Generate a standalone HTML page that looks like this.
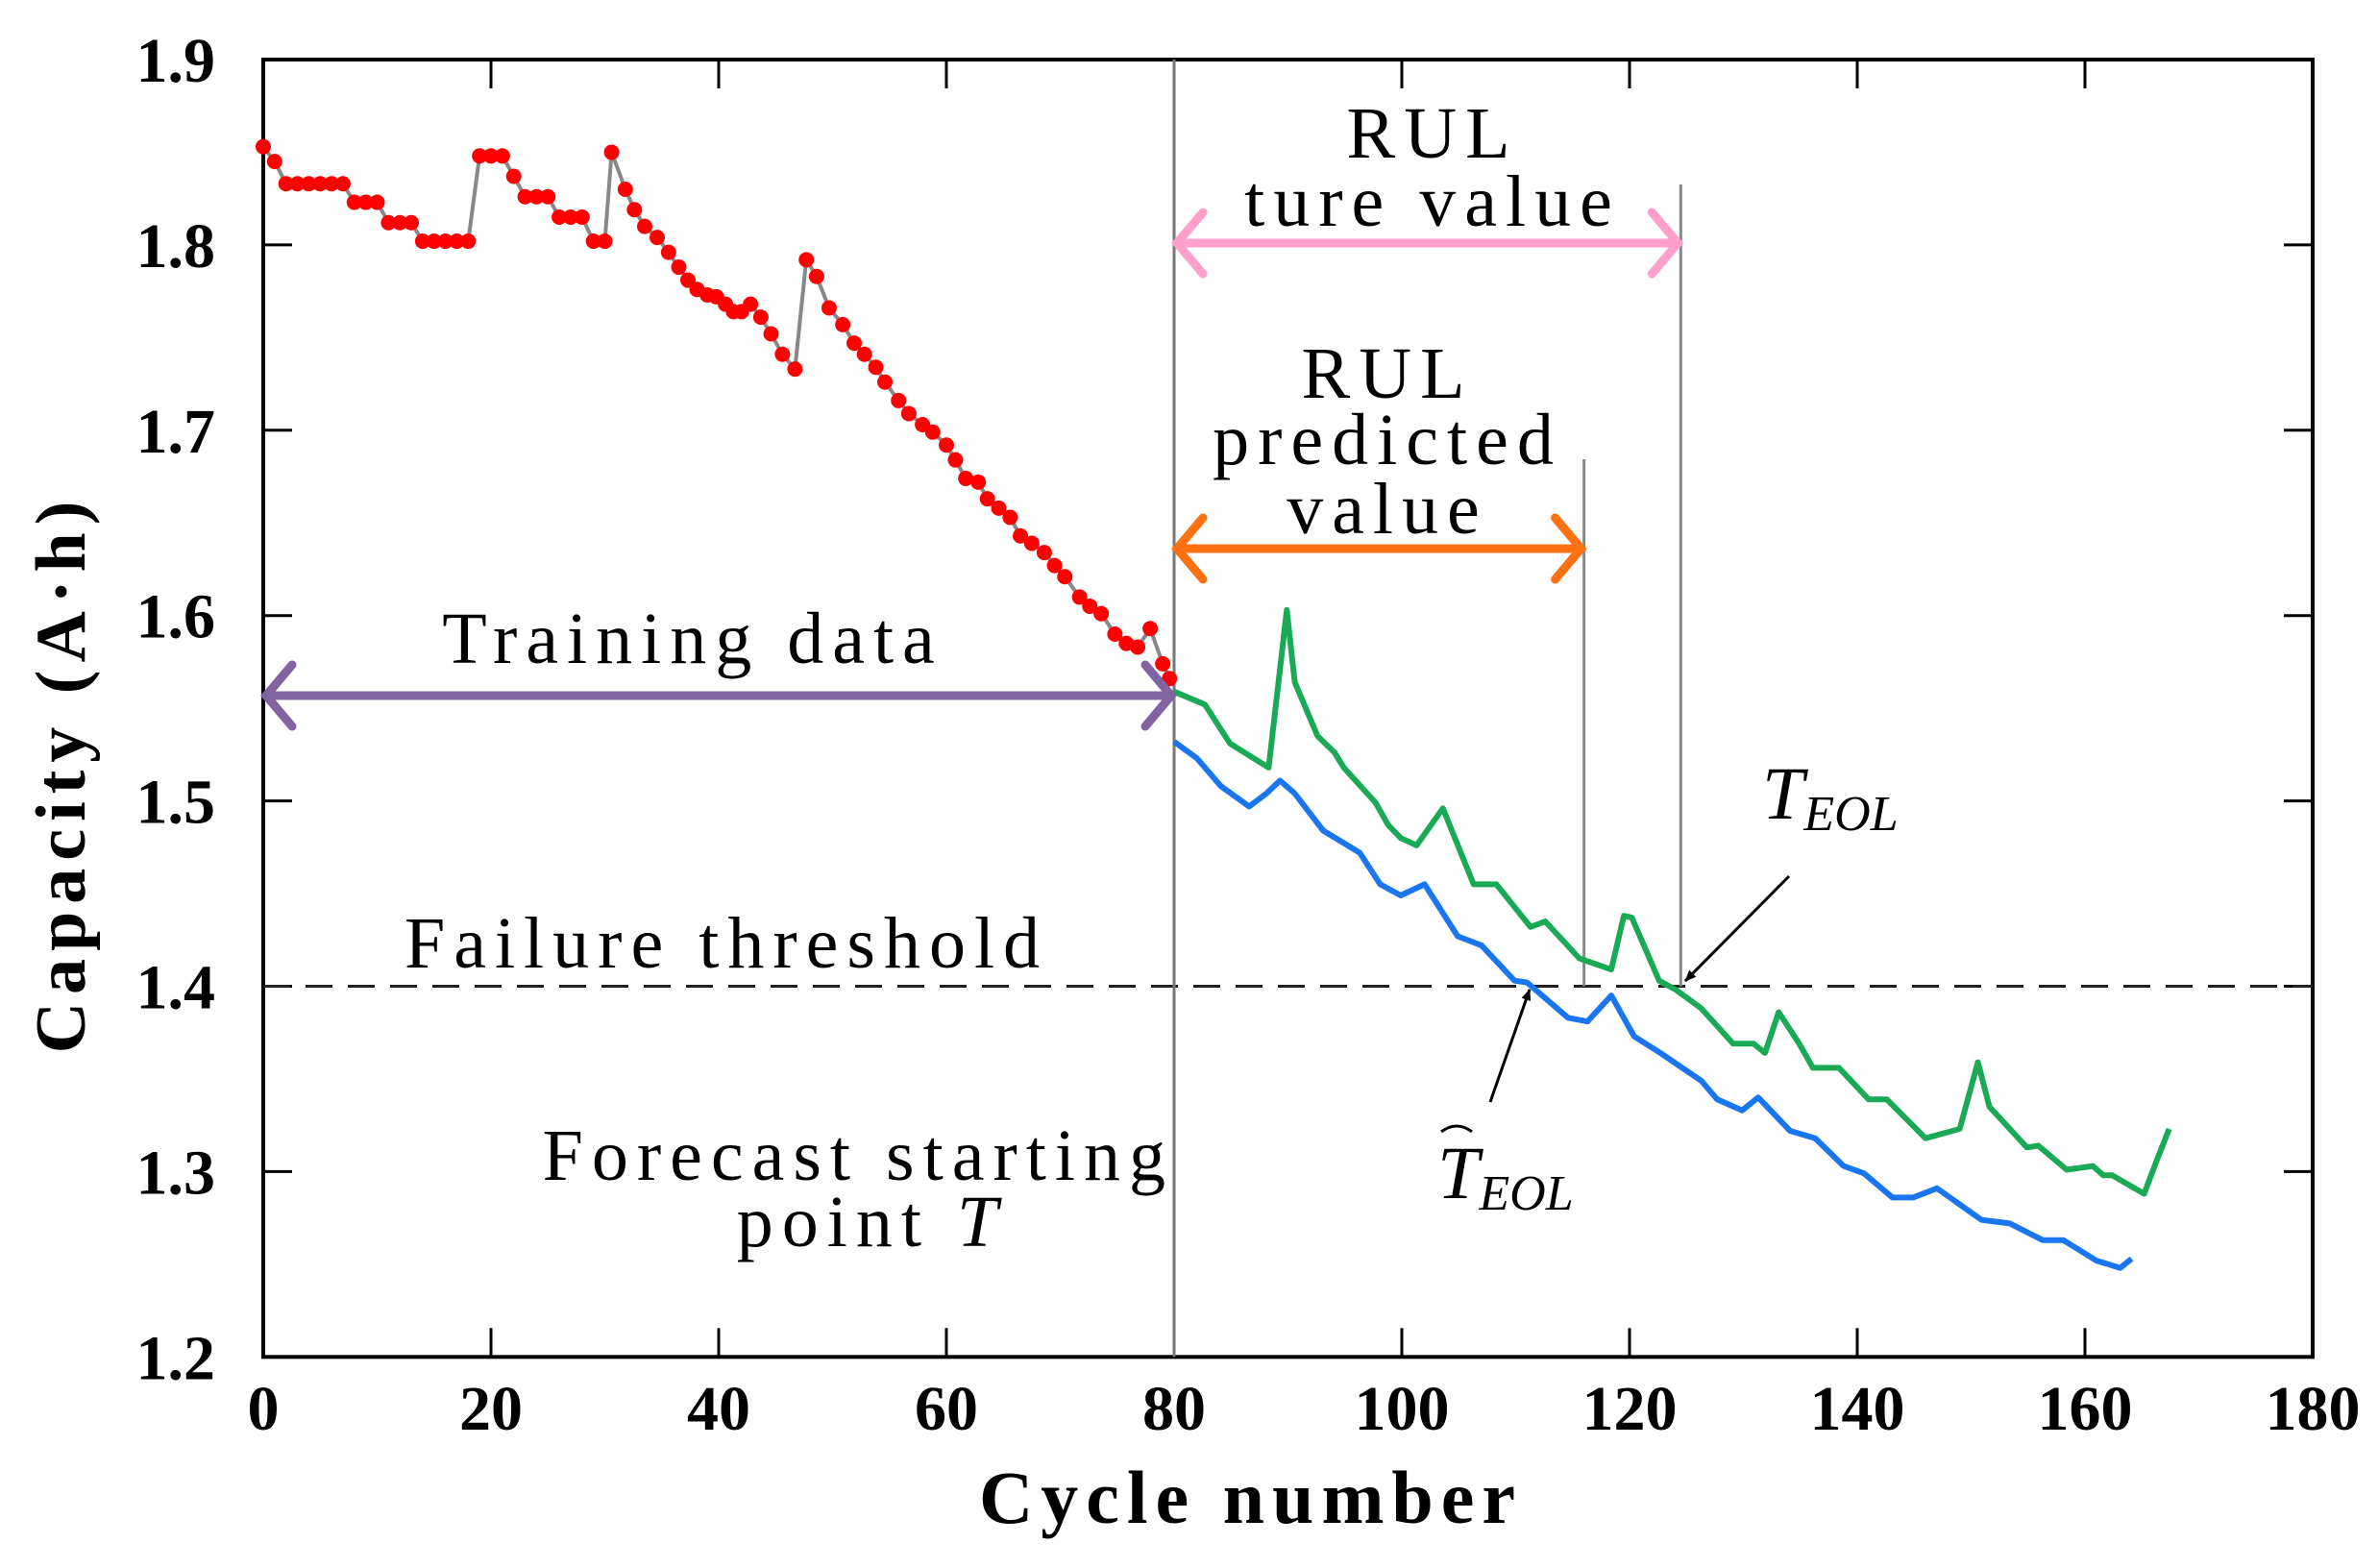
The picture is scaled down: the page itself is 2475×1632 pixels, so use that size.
<!DOCTYPE html>
<html><head><meta charset="utf-8"><style>
html,body{margin:0;padding:0;background:#fff;}
svg{display:block;}
text{font-family:"Liberation Serif",serif;}
</style></head><body>
<svg id="chart" width="2475" height="1632" viewBox="0 0 2475 1632" xmlns="http://www.w3.org/2000/svg">
<defs>
<marker id="ah" markerWidth="12" markerHeight="12" refX="11" refY="6" orient="auto" markerUnits="userSpaceOnUse">
<path d="M0,1 L12,6 L0,11 Z" fill="#000"/></marker>
</defs>
<g id="plot"></g>
</svg>
<script>
const trainX=[0,1,2,3,4,5,6,7,8,9,10,11,12,13,14,15,16,17,18,19,20,21,22,23,24,25,26,27,28,29,30,30.6,31.8,32.6,33.5,34.6,35.6,36.5,37.3,38.1,39,39.8,40.6,41.3,42,42.8,43.7,44.6,45.6,46.7,47.7,48.6,49.7,50.9,51.9,52.8,53.8,54.6,55.8,56.7,57.9,58.8,60,60.8,61.7,62.8,63.6,64.6,65.6,66.5,67.5,68.6,69.5,70.4,71.7,72.6,73.6,74.8,75.8,76.8,77.9,79,79.6];
const trainY=[1.853,1.845,1.833,1.833,1.833,1.833,1.833,1.833,1.823,1.823,1.823,1.812,1.812,1.812,1.802,1.802,1.802,1.802,1.802,1.848,1.848,1.848,1.837,1.826,1.826,1.826,1.815,1.815,1.815,1.802,1.802,1.850,1.830,1.819,1.810,1.804,1.796,1.788,1.781,1.776,1.773,1.772,1.768,1.764,1.764,1.768,1.761,1.752,1.741,1.733,1.792,1.783,1.766,1.757,1.747,1.741,1.734,1.726,1.716,1.709,1.703,1.699,1.692,1.684,1.674,1.672,1.663,1.658,1.653,1.643,1.639,1.634,1.627,1.621,1.610,1.605,1.601,1.590,1.585,1.583,1.593,1.574,1.566];
const trueX=[80,82.7,84.9,88.3,89.9,90.6,92.6,94.1,94.9,97.7,98.8,99.9,101.3,103.6,106.3,108.3,111.3,112.6,115.6,118.4,119.5,120.2,122.6,124.1,126.3,129.1,130.9,131.9,133.1,134.9,136.1,138.4,141,142.6,146,149,150.6,151.6,154.9,155.9,158.4,160.7,161.6,162.4,165.2,166.3,167.4];
const trueY=[1.559,1.552,1.531,1.518,1.603,1.564,1.535,1.526,1.518,1.499,1.487,1.480,1.476,1.496,1.455,1.455,1.432,1.435,1.415,1.409,1.438,1.437,1.403,1.398,1.388,1.369,1.369,1.364,1.386,1.369,1.356,1.356,1.339,1.339,1.318,1.323,1.359,1.335,1.313,1.314,1.301,1.303,1.298,1.298,1.288,1.306,1.323];
const predX=[80,82,84.1,86.6,88.1,89.3,90.6,93.1,96.3,98.1,99.9,102,104.9,107,109.9,111,114.6,116.3,118.4,120.4,122.7,126.3,127.7,129.9,131.3,134.1,136.3,138.8,140.6,143.1,144.9,147,150.9,153.4,156.3,158.1,161,163.1,164.1];
const predY=[1.532,1.523,1.508,1.497,1.504,1.511,1.504,1.484,1.472,1.455,1.449,1.455,1.427,1.422,1.403,1.402,1.383,1.381,1.395,1.373,1.364,1.349,1.339,1.333,1.340,1.322,1.318,1.303,1.299,1.286,1.286,1.291,1.274,1.272,1.263,1.263,1.252,1.248,1.253];
const xTicks=[0,20,40,60,80,100,120,140,160,180];
const yTicks=[1.2,1.3,1.4,1.5,1.6,1.7,1.8,1.9];
const threshold=1.4;
const startT=80, predEOL=116, trueEOL=124.5;

const X=c=>274+c*11.85;
const Y=v=>62+(1.9-v)*1929;
const NS='http://www.w3.org/2000/svg';
const g=document.getElementById('plot');
function el(tag,attrs,parent){const e=document.createElementNS(NS,tag);for(const k in attrs)e.setAttribute(k,attrs[k]);(parent||g).appendChild(e);return e;}
function txt(s,attrs){const e=el('text',attrs);e.textContent=s;return e;}

let f=el('rect',{x:X(0),y:Y(1.9),width:X(180)-X(0),height:Y(1.2)-Y(1.9),fill:'none',stroke:'#000','stroke-width':4});


xTicks.forEach(t=>{
  let l=el('line',{x1:X(t),x2:X(t),y1:Y(1.2),y2:Y(1.2)-30,stroke:'#000','stroke-width':3});
  
  
  let l2=el('line',{x1:X(t),x2:X(t),y1:Y(1.9),y2:Y(1.9)+30,stroke:'#000','stroke-width':3});
  
  
  let tl=txt(String(t),{x:X(t),y:1488,'text-anchor':'middle','font-size':66,'font-weight':'bold'});
  
  
});
yTicks.forEach(t=>{
  let l=el('line',{x1:X(0),x2:X(0)+30,y1:Y(t),y2:Y(t),stroke:'#000','stroke-width':3});
  
  
  let l2=el('line',{x1:X(180),x2:X(180)-30,y1:Y(t),y2:Y(t),stroke:'#000','stroke-width':3});
  
  
  let tl=txt(t.toFixed(1),{x:224,y:Y(t)+23,'text-anchor':'end','font-size':66,'font-weight':'bold'});
  
  
});
let xt=txt('Cycle number',{x:1302,y:1585,'text-anchor':'middle','font-size':78,'font-weight':'bold','letter-spacing':8});


let yt=txt('Capacity (A·h)',{x:0,y:0,transform:'translate(88,805) rotate(-90)','text-anchor':'middle','font-size':74,'font-weight':'bold','letter-spacing':8});



let th=el('line',{x1:X(0),x2:X(180),y1:Y(threshold),y2:Y(threshold),stroke:'#222','stroke-width':3,'stroke-dasharray':'28 16'});



let v1=el('line',{x1:X(startT),x2:X(startT),y1:Y(1.9),y2:Y(1.2),stroke:'#777','stroke-width':3});


let v2=el('line',{x1:X(predEOL),x2:X(predEOL),y1:478,y2:Y(threshold),stroke:'#888','stroke-width':3});


let v3=el('line',{x1:X(trueEOL),x2:X(trueEOL),y1:192,y2:Y(threshold),stroke:'#888','stroke-width':3});



function pts(xs,ys){return xs.map((x,i)=>X(x).toFixed(1)+','+Y(ys[i]).toFixed(1)).join(' ');}
let tr=el('polyline',{points:pts(trainX,trainY),fill:'none',stroke:'#888','stroke-width':4});


trainX.forEach((x,i)=>{
  let c=el('circle',{cx:X(x),cy:Y(trainY[i]),r:8,fill:'#f00'});
  
  
});
let gl=el('polyline',{points:pts(trueX,trueY),fill:'none',stroke:'#1aaa55','stroke-width':6,'stroke-linejoin':'round'});


let bl=el('polyline',{points:pts(predX,predY),fill:'none',stroke:'#1a75f0','stroke-width':6,'stroke-linejoin':'round'});



function dbl(x1,x2,y,col,name){
  const gg=el('g',{stroke:col,'stroke-width':9,'stroke-linecap':'round',fill:'none'});
  
  
  el('line',{x1:x1+3,x2:x2-3,y1:y,y2:y},gg);
  el('polyline',{points:`${x1+30},${y-32} ${x1+3},${y} ${x1+30},${y+32}`},gg);
  el('polyline',{points:`${x2-30},${y-32} ${x2-3},${y} ${x2-30},${y+32}`},gg);
}
dbl(X(0),X(startT),724,'#8064a2','training-data-arrow');
dbl(X(startT),X(predEOL),571,'#ff7010','rul-predicted-arrow');
dbl(X(startT),X(trueEOL),253,'#ffa0cc','rul-true-arrow');

function label(s,x,y,anchor,name){
  let t=txt(s,{x:x,y:y,'text-anchor':anchor,'font-size':76,'letter-spacing':9});
  
  
}
label('RUL',1491,164,'middle','rul-true-label');
label('ture value',1491,235,'middle','rul-true-label-2');
label('RUL',1444,414,'middle','rul-predicted-label');
label('predicted',1444,483,'middle','rul-predicted-label-2');
label('value',1444,555,'middle','rul-predicted-label-3');
label('Training data',721,690,'middle','training-data-label');
label('Failure threshold',756,1007,'middle','failure-threshold-label');
label('Forecast starting',1222,1228,'end','forecast-start-label');
let pt=txt('point ',{x:907,y:1297,'text-anchor':'middle','font-size':76,'letter-spacing':9});


const ts=document.createElementNS(NS,'tspan');ts.setAttribute('font-style','italic');ts.textContent='T';pt.appendChild(ts);

let te=txt('',{x:1834,y:852,'font-size':78,'font-style':'italic'});


te.innerHTML='T<tspan font-size="52" dy="12">EOL</tspan>';
let th2=txt('',{x:1496,y:1247,'font-size':78,'font-style':'italic'});


th2.innerHTML='T<tspan font-size="52" dy="12">EOL</tspan>';
let hat=el('path',{d:'M1500,1178 Q1516,1166 1532,1178',fill:'none',stroke:'#000','stroke-width':3});


let a1=el('line',{x1:1862,y1:912,x2:1754,y2:1021,stroke:'#000','stroke-width':3,'marker-end':'url(#ah)'});


let a2=el('line',{x1:1551,y1:1147,x2:1592,y2:1030,stroke:'#000','stroke-width':3,'marker-end':'url(#ah)'});


</script>
</body></html>
